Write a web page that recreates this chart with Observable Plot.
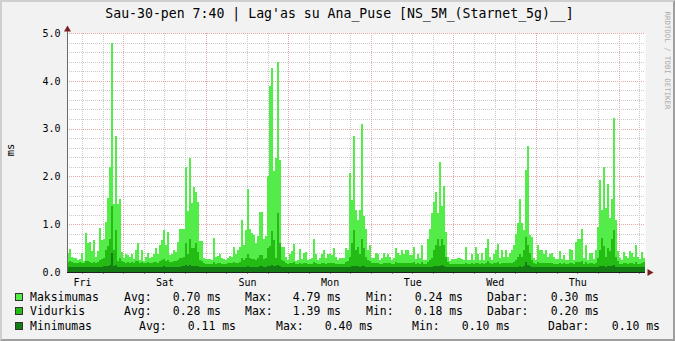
<!DOCTYPE html>
<html><head><meta charset="utf-8">
<script src="https://cdn.jsdelivr.net/npm/d3@7"></script>
<script src="https://cdn.jsdelivr.net/npm/@observablehq/plot@0.6"></script>
<style>
html,body{margin:0;padding:0;background:#F2F2F2;}
#wrap{position:relative;width:675px;height:341px;background:#F2F2F2;overflow:hidden;font-family:"DejaVu Sans Mono",monospace;color:#000;}
#wrap svg{position:absolute;left:0;top:0;}
.abs{position:absolute;white-space:pre;}
#frame{position:absolute;left:0;top:0;width:675px;height:341px;box-sizing:border-box;border-left:2px solid #CFCFCF;border-top:2px solid #CFCFCF;border-right:2px solid #9E9E9E;border-bottom:2px solid #9E9E9E;pointer-events:none;}
</style></head><body><div id="wrap"></div>
<script>
// ---- data ----
const titleText = "Sau-30-pen 7:40 | Lag'as su Ana_Puse [NS_5M_(Starnet_5g)__]";
const yUnit = "ms";
const spanHours = 168;
const endClockHours = 7 + 40/60;
const dayLabels = ["Fri","Sat","Sun","Mon","Tue","Wed","Thu"];
const yTicks = [0,1,2,3,4,5];

const maxVals = [
0.40,0.48,0.32,0.30,0.29,0.25,0.28,0.39,0.22,0.81,
0.60,0.62,0.43,0.66,0.31,0.43,0.93,0.67,0.70,1.05,
1.55,2.20,4.79,1.42,2.85,1.42,1.53,0.42,0.29,0.38,
0.36,0.32,0.38,0.27,0.46,0.60,0.25,0.46,0.22,0.32,
0.39,0.29,0.32,0.38,0.50,0.38,0.56,0.67,0.88,0.56,
0.84,0.35,0.37,0.47,0.42,0.62,0.91,0.90,0.90,2.20,
1.27,2.38,1.44,1.77,1.68,1.46,0.65,0.65,0.30,0.28,
0.27,0.28,0.25,0.72,0.32,0.34,0.38,0.30,0.28,0.26,
0.29,0.34,0.32,0.52,0.38,0.45,0.53,1.09,0.57,0.88,
1.73,0.91,0.81,0.77,0.60,0.75,1.26,1.26,
0.70,0.75,2.00,3.90,4.26,2.12,2.39,4.40,2.34,0.53,
0.53,0.32,0.25,0.38,0.43,0.58,0.24,0.25,0.48,0.27,
0.40,0.42,0.25,0.27,0.29,0.69,0.38,0.25,0.29,0.38,
0.46,0.30,0.38,0.37,0.36,0.50,0.32,0.25,0.29,0.30,
0.30,0.50,0.46,2.08,1.50,2.85,1.30,1.09,1.30,3.09,
1.17,0.91,0.45,0.56,0.30,0.30,0.40,0.38,0.25,0.30,
0.40,0.32,0.38,0.32,0.25,0.30,0.50,0.40,0.35,0.45,
0.38,0.45,0.45,0.35,0.35,0.52,0.28,0.38,0.29,0.56,
0.25,0.25,0.70,0.90,1.24,1.47,1.68,1.24,2.31,1.39,
1.80,0.84,0.32,0.24,0.27,0.28,0.28,0.30,0.30,
0.28,0.25,0.52,0.25,0.25,0.38,0.25,0.52,0.38,0.25,
0.40,0.25,0.50,0.70,0.32,0.25,0.38,0.46,0.58,0.30,
0.46,0.32,0.46,0.32,0.39,0.46,0.56,0.80,1.03,1.53,
1.02,0.88,2.13,2.64,0.77,0.74,0.30,0.25,0.56,0.46,
0.45,0.38,0.45,0.32,0.38,0.40,0.32,0.27,0.27,
0.43,0.27,0.35,0.25,0.26,0.48,0.46,0.25,0.63,0.69,
0.68,0.91,0.30,0.56,0.25,0.40,0.40,0.27,0.46,0.95,
1.92,1.30,2.20,1.33,1.84,1.12,1.52,3.23,1.09,0.44,
0.29,0.25,0.42,0.34,0.30,0.44,0.39,0.31,0.56,0.31,
0.27,0.42,0.30];

const avgVals = [
0.20,0.22,0.20,0.19,0.18,0.18,0.20,0.19,0.18,0.23,
0.22,0.20,0.19,0.20,0.18,0.20,0.25,0.28,0.30,0.45,
0.55,0.70,1.39,0.45,0.88,0.22,0.30,0.22,0.20,0.19,
0.20,0.19,0.20,0.19,0.22,0.24,0.19,0.20,0.18,0.19,
0.20,0.18,0.19,0.20,0.20,0.19,0.22,0.25,0.28,0.24,
0.25,0.20,0.20,0.22,0.22,0.25,0.30,0.30,0.32,0.60,
0.38,0.70,0.50,0.50,0.60,0.42,0.25,0.22,0.18,0.17,
0.17,0.17,0.17,0.20,0.17,0.18,0.18,0.17,0.17,0.17,
0.18,0.18,0.18,0.20,0.18,0.19,0.20,0.30,0.25,0.30,
0.38,0.30,0.28,0.28,0.25,0.30,0.35,0.35,
0.28,0.30,0.50,0.55,0.86,0.67,0.30,1.24,0.60,0.25,
0.22,0.18,0.17,0.18,0.18,0.20,0.17,0.17,0.18,0.17,
0.18,0.18,0.17,0.17,0.17,0.20,0.18,0.17,0.17,0.18,
0.18,0.17,0.18,0.18,0.18,0.19,0.17,0.17,0.17,0.17,
0.17,0.20,0.22,0.32,0.60,0.88,0.46,0.53,0.38,0.70,
0.50,0.32,0.25,0.22,0.18,0.18,0.19,0.18,0.17,0.17,
0.19,0.18,0.18,0.18,0.17,0.17,0.20,0.18,0.18,0.19,
0.18,0.19,0.19,0.18,0.18,0.20,0.17,0.18,0.17,0.20,
0.17,0.17,0.20,0.25,0.30,0.45,0.56,0.70,0.55,0.70,
0.56,0.32,0.20,0.17,0.17,0.17,0.17,0.17,0.17,
0.17,0.17,0.19,0.17,0.17,0.18,0.17,0.19,0.18,0.17,
0.18,0.17,0.19,0.22,0.18,0.17,0.18,0.19,0.20,0.17,
0.19,0.18,0.19,0.18,0.18,0.19,0.20,0.25,0.32,0.38,
0.32,0.46,0.74,0.56,0.39,0.25,0.18,0.17,0.20,0.19,
0.19,0.18,0.19,0.18,0.18,0.18,0.17,0.17,0.17,
0.19,0.17,0.18,0.17,0.17,0.19,0.19,0.17,0.20,0.21,
0.21,0.24,0.17,0.20,0.17,0.18,0.18,0.17,0.19,0.30,
0.46,0.72,0.54,0.32,0.50,0.43,0.70,0.88,0.32,0.22,
0.17,0.17,0.18,0.18,0.17,0.19,0.18,0.17,0.20,0.17,
0.17,0.18,0.20];

const minVals = [
0.10,0.11,0.10,0.10,0.10,0.10,0.10,0.10,0.10,0.11,
0.10,0.10,0.10,0.11,0.10,0.10,0.11,0.11,0.12,0.12,
0.13,0.15,0.40,0.12,0.14,0.11,0.11,0.10,0.10,0.10,
0.10,0.10,0.10,0.10,0.11,0.11,0.10,0.10,0.10,0.10,
0.10,0.10,0.10,0.10,0.11,0.10,0.11,0.11,0.12,0.11,
0.11,0.10,0.10,0.10,0.10,0.11,0.11,0.12,0.12,0.14,
0.12,0.14,0.13,0.12,0.13,0.12,0.11,0.10,0.10,0.10,
0.10,0.10,0.10,0.10,0.10,0.10,0.10,0.10,0.10,0.10,
0.10,0.10,0.10,0.10,0.10,0.10,0.10,0.11,0.10,0.11,
0.12,0.11,0.11,0.11,0.10,0.11,0.12,0.12,
0.11,0.11,0.12,0.13,0.14,0.13,0.12,0.15,0.12,0.10,
0.10,0.10,0.10,0.10,0.10,0.10,0.10,0.10,0.10,0.10,
0.10,0.10,0.10,0.10,0.10,0.10,0.10,0.10,0.10,0.10,
0.10,0.10,0.10,0.10,0.10,0.10,0.10,0.10,0.10,0.10,
0.10,0.10,0.10,0.11,0.12,0.13,0.12,0.12,0.11,0.12,
0.12,0.11,0.10,0.10,0.10,0.10,0.10,0.10,0.10,0.10,
0.10,0.10,0.10,0.10,0.10,0.10,0.10,0.10,0.10,0.10,
0.10,0.10,0.10,0.10,0.10,0.10,0.10,0.10,0.10,0.10,
0.10,0.10,0.10,0.11,0.11,0.12,0.13,0.13,0.12,0.14,
0.12,0.11,0.10,0.10,0.10,0.10,0.10,0.10,0.10,
0.10,0.10,0.10,0.10,0.10,0.10,0.10,0.10,0.10,0.10,
0.10,0.10,0.10,0.10,0.10,0.10,0.10,0.10,0.10,0.10,
0.10,0.10,0.10,0.10,0.10,0.10,0.10,0.11,0.11,0.12,
0.11,0.13,0.20,0.14,0.12,0.11,0.10,0.10,0.10,0.10,
0.10,0.10,0.10,0.10,0.10,0.10,0.10,0.10,0.10,
0.10,0.10,0.10,0.10,0.10,0.10,0.10,0.10,0.10,0.10,
0.10,0.11,0.10,0.10,0.10,0.10,0.10,0.10,0.10,0.11,
0.12,0.13,0.12,0.11,0.12,0.12,0.13,0.14,0.11,0.10,
0.10,0.10,0.10,0.10,0.10,0.10,0.10,0.10,0.11,0.10,
0.10,0.10,0.10];

const seriesNames = ["Maksimumas","Vidurkis","Minimumas"];
const statAvg = ["0.70","0.28","0.11"];
const statMax = ["4.79","1.39","0.40"];
const statMin = ["0.24","0.18","0.10"];
const statNow = ["0.30","0.20","0.10"];

// ---- rendering ----
const colors = ["#54EC48","#24BC14","#137D13"];
const N = maxVals.length;
const dt = spanHours / N;
const rows = maxVals.map((v,i)=>({t:i*dt, max:v, avg:avgVals[i], min:minVals[i]}));
rows.push({t:spanHours, max:maxVals[N-1], avg:avgVals[N-1], min:minVals[N-1]});

const firstMidnight = spanHours - endClockHours - 6*24;
const midnights = d3.range(firstMidnight, spanHours, 24);
const sixHours = d3.range(firstMidnight % 6, spanHours, 6).filter(h => !midnights.some(m => Math.abs(m-h) < 1e-6));
const noons = midnights.map(m => m - 12);
const yMinor = d3.range(1, 25).map(k => k*0.2).filter(v => Math.abs(v - Math.round(v)) > 1e-6);
const yMajor = yTicks.filter(v => v > 0);

const F = "DejaVu Sans Mono";
const chart = Plot.plot({
  width: 675, height: 341,
  marginLeft: 67, marginRight: 30, marginTop: 33, marginBottom: 69,
  x: {domain: [0, spanHours], axis: null},
  y: {domain: [0, 5], axis: null},
  style: {background: "transparent", overflow: "visible", fontFamily: F},
  marks: [
    Plot.frame({fill: "white", stroke: null}),
    Plot.ruleY(yMinor, {stroke: "#CACACA", strokeDasharray: "1,1", shapeRendering: "crispEdges"}),
    Plot.ruleX(sixHours, {stroke: "#CACACA", strokeDasharray: "1,1", shapeRendering: "crispEdges"}),
    Plot.ruleY(yMajor, {stroke: "#E9A9A9", strokeDasharray: "1,1", shapeRendering: "crispEdges"}),
    Plot.ruleX(midnights, {stroke: "#E9A9A9", strokeDasharray: "1,1", shapeRendering: "crispEdges"}),
    Plot.areaY(rows, {x: "t", y: "max", curve: "step-after", fill: colors[0], shapeRendering: "crispEdges"}),
    Plot.areaY(rows, {x: "t", y: "avg", curve: "step-after", fill: colors[1], shapeRendering: "crispEdges"}),
    Plot.areaY(rows, {x: "t", y: "min", curve: "step-after", fill: colors[2], shapeRendering: "crispEdges"}),
    // axis tick marks below the baseline
    Plot.ruleX(sixHours, {y1: 0, y2: -0.05, stroke: "#8F8F8F", shapeRendering: "crispEdges"}),
    Plot.ruleX(midnights, {y1: 0, y2: -0.05, stroke: "#DE4F4F", strokeOpacity: 0.7, shapeRendering: "crispEdges"}),
    Plot.ruleY([0], {x1: 0, x2: spanHours, stroke: "#1F1F1F", shapeRendering: "crispEdges"}),
    Plot.ruleX([0], {y1: 0, y2: 5.08, stroke: "#6A6A6A", shapeRendering: "crispEdges"}),
    Plot.dot([{x: 0, y: 5}], {x: "x", y: "y", symbol: "triangle", r: 2.6, fill: "#801F1F", stroke: null, dy: -4}),
    Plot.dot([{x: spanHours, y: 0}], {x: "x", y: "y", symbol: "triangle", r: 2.6, rotate: 90, fill: "#801F1F", stroke: null, dx: 4}),
    Plot.text(yTicks, {x: 0, y: d => d, text: d => d.toFixed(1), textAnchor: "end", dx: -7, fontSize: 10, fontFamily: F, fill: "#000"}),
    Plot.text(noons, {x: d => d, y: 0, text: (d, i) => dayLabels[i], dy: 10, fontSize: 10, fontFamily: F, fill: "#000"})
  ]
});
const wrap = document.getElementById("wrap");
wrap.appendChild(chart);

function addText(txt, left, top, css) {
  const el = document.createElement("div");
  el.className = "abs";
  el.textContent = txt;
  el.style.left = left + "px";
  el.style.top = top + "px";
  Object.assign(el.style, css || {});
  wrap.appendChild(el);
  return el;
}
// title
addText(titleText, 0, 6, {width: "675px", textAlign: "center", fontSize: "13.2px", lineHeight: "16px", paddingLeft: "4px", boxSizing: "border-box"});
// y unit label
addText(yUnit, -5, 143, {fontSize: "10.5px", lineHeight: "14px", width: "30px", textAlign: "center", transform: "rotate(-90deg)"});
// watermark
addText("RRDTOOL / TOBI OETIKER", 612, 56, {fontSize: "7.4px", lineHeight: "9px", width: "110px", textAlign: "center", color: "#ACACAC", transform: "rotate(90deg)"});

// legend
const legendLayout = [
  {name: 30, avgL: 124, avgV: 221, maxL: 245, maxV: 341, minL: 366, minV: 463, nowL: 487, nowV: 599, top: 290},
  {name: 30, avgL: 124, avgV: 221, maxL: 245, maxV: 341, minL: 366, minV: 463, nowL: 487, nowV: 599, top: 304},
  {name: 30, avgL: 139, avgV: 236, maxL: 276, maxV: 373, minL: 412, minV: 510, nowL: 548, nowV: 660, top: 319}
];
const lf = {fontSize: "11.45px", lineHeight: "14px"};
seriesNames.forEach((nm, i) => {
  const L = legendLayout[i];
  const box = document.createElement("div");
  box.style.cssText = `position:absolute;left:15px;top:${L.top + 3}px;width:6px;height:6px;background:${colors[i]};border:1px solid #333;`;
  wrap.appendChild(box);
  addText(nm, L.name, L.top, lf);
  addText("Avg:", L.avgL, L.top, lf);
  addText(statAvg[i] + " ms", L.avgV - 60, L.top, Object.assign({width: "60px", textAlign: "right"}, lf));
  addText("Max:", L.maxL, L.top, lf);
  addText(statMax[i] + " ms", L.maxV - 60, L.top, Object.assign({width: "60px", textAlign: "right"}, lf));
  addText("Min:", L.minL, L.top, lf);
  addText(statMin[i] + " ms", L.minV - 60, L.top, Object.assign({width: "60px", textAlign: "right"}, lf));
  addText("Dabar:", L.nowL, L.top, lf);
  addText(statNow[i] + " ms", L.nowV - 60, L.top, Object.assign({width: "60px", textAlign: "right"}, lf));
});
const fr = document.createElement("div");
fr.id = "frame";
wrap.appendChild(fr);
</script></body></html>
